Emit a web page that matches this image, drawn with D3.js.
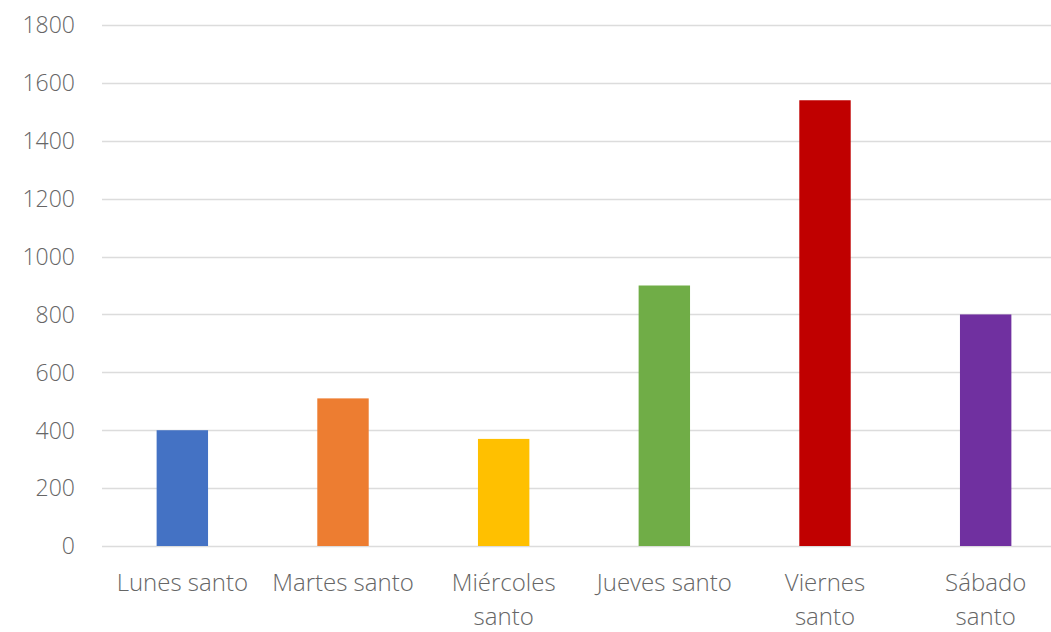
<!DOCTYPE html>
<html>
<head>
<meta charset="utf-8">
<script src="https://cdn.jsdelivr.net/npm/d3@7"></script>
<style>
  html, body { margin: 0; padding: 0; background: #fff; }
  svg { display: block; }
  text { font-family: "Open Sans", "Noto Sans", sans-serif; font-weight: 300; fill: #666; }
</style>
</head>
<body>
<svg id="chart" width="1051" height="632"></svg>
<script>
const categories = ["Lunes santo", "Martes santo", "Miércoles santo", "Jueves santo", "Viernes santo", "Sábado santo"];
const labelLines = [["Lunes santo"], ["Martes santo"], ["Miércoles", "santo"], ["Jueves santo"], ["Viernes", "santo"], ["Sábado", "santo"]];
const values = [400, 510, 370, 900, 1540, 800];
const colors = ["#4472C4", "#ED7D31", "#FFC000", "#70AD47", "#C00000", "#7030A0"];
const yTicks = [0, 200, 400, 600, 800, 1000, 1200, 1400, 1600, 1800];

const svg = d3.select("#chart");
const mLeft = 102, mRight = 1066, mTop = 25, mBottom = 546;

const x = d3.scaleBand().domain(categories).range([mLeft, mRight]).paddingInner(0.68).paddingOuter(0.34);
const y = d3.scaleLinear().domain([0, 1800]).range([mBottom, mTop]);

// gridlines
svg.append("g")
  .selectAll("line")
  .data(yTicks)
  .join("line")
  .attr("x1", mLeft).attr("x2", 1051)
  .attr("y1", d => Math.round(y(d)) + 0.5).attr("y2", d => Math.round(y(d)) + 0.5)
  .attr("stroke", "#dcdcdc").attr("stroke-width", 1.5);

// y axis labels
const yAxis = d3.axisLeft(y).tickValues(yTicks).tickSize(0).tickPadding(0).tickFormat(d3.format("d"));
const gy = svg.append("g").attr("transform", `translate(75,0)`).call(yAxis);
gy.select(".domain").remove();
gy.selectAll("text").attr("font-size", 23).style("font-family", "'Open Sans', sans-serif").style("font-weight", 300).style("fill", "#666").attr("dy", "0.34em");

// bars
svg.append("g")
  .selectAll("rect")
  .data(values)
  .join("rect")
  .attr("x", (d, i) => x(categories[i]))
  .attr("width", x.bandwidth())
  .attr("y", d => y(d))
  .attr("height", d => y(0) - y(d))
  .attr("fill", (d, i) => colors[i]);

// x axis labels
const xAxis = d3.axisBottom(x).tickSize(0).tickFormat("");
const gx = svg.append("g").attr("transform", `translate(0,${mBottom})`).call(xAxis);
gx.select(".domain").remove();
gx.selectAll(".tick").each(function(d, i) {
  const t = d3.select(this).append("text")
    .attr("text-anchor", "middle")
    .attr("font-size", 24)
    .attr("y", 45);
  labelLines[i].forEach((line, j) => {
    t.append("tspan").attr("x", 0).attr("dy", j === 0 ? 0 : 34).text(line);
  });
});
</script>
</body>
</html>
